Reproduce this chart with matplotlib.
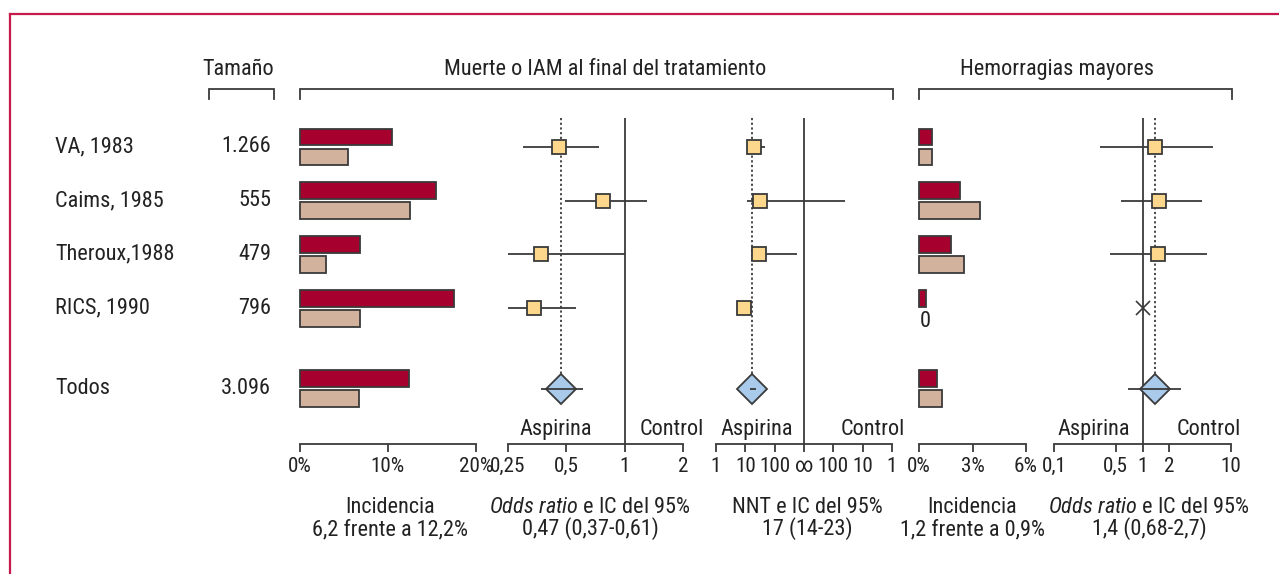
import matplotlib
matplotlib.use('Agg')
import matplotlib.pyplot as plt
import numpy as np
from matplotlib import font_manager
from matplotlib.ticker import NullLocator, FixedLocator, FixedFormatter
from matplotlib.transforms import blended_transform_factory

# ---------------- data ----------------
studies = ['VA, 1983', 'Caims, 1985', 'Theroux,1988', 'RICS, 1990', 'Todos']
sizes = ['1.266', '555', '479', '796', '3.096']

# Muerte o IAM: incidence (%)  red = control, tan = aspirina
mort_control = [10.5, 15.5, 6.8, 17.5, 12.4]
mort_aspirin = [5.5, 12.5, 3.0, 6.8, 6.7]
# Odds ratio (per study) and 95% CI
mort_or = [0.46, 0.77, 0.37, 0.34]
mort_or_lo = [0.30, 0.49, 0.25, 0.25]
mort_or_hi = [0.74, 1.30, 1.00, 0.56]
mort_or_pool, mort_or_pool_lo, mort_or_pool_hi = 0.47, 0.37, 0.61
# NNT (negative = number needed to harm)
nnt = [20, 32, 30, 9]
nnt_lo = [11, 11, 18, 7.5]
nnt_hi = [47, -40, 400, 11]
nnt_pool, nnt_pool_lo, nnt_pool_hi = 17, 14, 23

# Hemorragias mayores: incidence (%)
hem_control = [0.7, 2.3, 1.8, 0.4, 1.0]
hem_aspirin = [0.7, 3.4, 2.5, 0.0, 1.3]
hem_or = [1.39, 1.54, 1.49, np.nan]
hem_or_lo = [0.33, 0.57, 0.43, np.nan]
hem_or_hi = [6.3, 4.76, 5.4, np.nan]
hem_or_pool, hem_or_pool_lo, hem_or_pool_hi = 1.4, 0.68, 2.7

inc_ticks = [0, 10, 20]
inc_labels = ['0%', '10%', '20%']
or_ticks = [0.25, 0.5, 1, 2]
or_labels = ['0,25', '0,5', '1', '2']
nnt_tick_vals = [1, 10, 100, np.inf, -100, -10, -1]
nnt_labels = ['1', '10', '100', '∞', '100', '10', '1']
hinc_ticks = [0, 3, 6]
hinc_labels = ['0%', '3%', '6%']
hor_ticks = [0.1, 0.5, 1, 2, 10]
hor_labels = ['0,1', '0,5', '1', '2', '10']

# ---------------- font selection (prefer a condensed sans) ----------------
def pick_font():
    entries = font_manager.fontManager.ttflist
    names = {e.name for e in entries}
    for nm in ['Liberation Sans Narrow', 'Roboto Condensed', 'Open Sans Condensed',
               'Noto Sans Condensed', 'DejaVu Sans Condensed', 'Arial Narrow']:
        if nm in names:
            return nm, 'normal', 16
    for fam in ['Roboto', 'Noto Sans', 'Open Sans', 'DejaVu Sans', 'Lato', 'Inter']:
        for e in entries:
            if (e.name == fam and str(e.stretch) in ('condensed', 'semi-condensed')
                    and e.style == 'normal'):
                return fam, str(e.stretch), 16
    for e in entries:
        if ('Narrow' in e.name or 'Condensed' in e.name) and e.style == 'normal':
            return e.name, 'normal', 16
    if 'Liberation Sans' in names:
        return 'Liberation Sans', 'normal', 13.5
    return 'DejaVu Sans', 'normal', 12.5


FONT, STRETCH, FS = pick_font()
plt.rcParams['font.family'] = [FONT, 'DejaVu Sans']
plt.rcParams['font.stretch'] = STRETCH
plt.rcParams['mathtext.fontset'] = 'custom'
plt.rcParams['mathtext.rm'] = FONT
plt.rcParams['mathtext.it'] = FONT + ':italic'
TFS = FS - 0.8  # tick label size

TXT = '#222222'
LINE = '#3a3a3a'
RED = '#a6002f'
TAN = '#d2b29d'
SQ = '#fdd78c'
DIA = '#a9caea'
FRAME = '#c8194b'

W, H = 1279, 574
fig = plt.figure(figsize=(W / 100, H / 100), dpi=100)

ov = fig.add_axes([0, 0, 1, 1], zorder=0)
ov.set_xlim(0, W)
ov.set_ylim(H, 0)
ov.axis('off')

ROW0, PITCH = 147.0, 53.7
Y_TOP, Y_BOT = 118, 444
rows = np.array([0, 1, 2, 3, 4.5])
ylim = ((Y_BOT - ROW0) / PITCH, (Y_TOP - ROW0) / PITCH)


def panel(x0, x1):
    ax = fig.add_axes([x0 / W, 1 - Y_BOT / H, (x1 - x0) / W, (Y_BOT - Y_TOP) / H], zorder=2)
    ax.set_facecolor('none')
    ax.set_ylim(*ylim)
    for s in ('top', 'left', 'right'):
        ax.spines[s].set_visible(False)
    ax.spines['bottom'].set_color(LINE)
    ax.spines['bottom'].set_linewidth(1.3)
    ax.set_yticks([])
    ax.tick_params(axis='x', direction='out', length=5.8, width=1.3, color=LINE,
                   labelsize=TFS, pad=3.5, labelcolor=TXT)
    return ax


def set_ticks(ax, ticks, labels):
    ax.xaxis.set_major_locator(FixedLocator(ticks))
    ax.xaxis.set_major_formatter(FixedFormatter(labels))
    ax.xaxis.set_minor_locator(NullLocator())


BH, BOFF = 0.315, 0.187


def bars(ax, control, aspirin):
    c = np.array(control, float)
    a = np.array(aspirin, float)
    ax.barh(rows - BOFF, c, height=BH, color=RED, edgecolor=LINE, linewidth=1.3, clip_on=False)
    m = a > 0
    ax.barh((rows + BOFF)[m], a[m], height=BH, color=TAN, edgecolor=LINE, linewidth=1.3, clip_on=False)


def forest(ax, est, lo, hi, pool, plo, phi, ref):
    est = np.array(est, float)
    lo = np.array(lo, float)
    hi = np.array(hi, float)
    r = rows[:len(est)]
    ok = ~np.isnan(est)
    ax.axvline(ref, color=LINE, lw=1.3, zorder=1)
    ax.plot([pool, pool], [ylim[1], rows[-1]], color=LINE, lw=1.3, ls=(0, (1.2, 1.4)), zorder=1)
    ax.hlines(r[ok], lo[ok], hi[ok], color=LINE, lw=1.3, zorder=2, clip_on=False)
    ax.plot(est[ok], r[ok], 's', ms=10.5, mfc=SQ, mec=LINE, mew=1.3, zorder=3, clip_on=False)
    if (~ok).any():
        ax.plot(np.full((~ok).sum(), ref), r[~ok], 'x', ms=10, mec=LINE, mew=1.2, zorder=3)
    ax.plot([pool], [rows[-1]], 'D', ms=15.5, mfc=DIA, mec=LINE, mew=1.3, zorder=3, clip_on=False)
    ax.hlines([rows[-1]], [plo], [phi], color=LINE, lw=1.3, zorder=4, clip_on=False)


# panel 1: incidence muerte/IAM
ax1 = panel(299.5, 476)
ax1.set_xlim(0, 20)
set_ticks(ax1, inc_ticks, inc_labels)
bars(ax1, mort_control, mort_aspirin)

# panel 2: OR muerte/IAM
ax2 = panel(508, 683)
ax2.set_xscale('log')
ax2.set_xlim(0.25, 2)
set_ticks(ax2, or_ticks, or_labels)
forest(ax2, mort_or, mort_or_lo, mort_or_hi, mort_or_pool, mort_or_pool_lo, mort_or_pool_hi, 1)

# panel 3: NNT (plotted as 1/NNT on a symmetric-log scale)
def arr(v):
    return 1.0 / np.asarray(v, float)

ax3 = panel(716, 892)
ax3.set_xscale('symlog', linthresh=0.01, linscale=0.9)
ax3.set_xlim(1, -1)
set_ticks(ax3, list(arr(nnt_tick_vals)), nnt_labels)
forest(ax3, arr(nnt), arr(nnt_lo), arr(nnt_hi), 1 / nnt_pool, 1 / nnt_pool_lo, 1 / nnt_pool_hi, 0)

# panel 4: incidence hemorragias
ax4 = panel(919.3, 1025.7)
ax4.set_xlim(0, 6)
set_ticks(ax4, hinc_ticks, hinc_labels)
bars(ax4, hem_control, hem_aspirin)
for i, v in enumerate(hem_aspirin):
    if v == 0:
        ax4.text(0, rows[i] + BOFF + 0.07, '0', fontsize=FS, color=TXT, ha='left', va='center')

# panel 5: OR hemorragias
ax5 = panel(1054, 1231)
ax5.set_xscale('log')
ax5.set_xlim(0.1, 10)
set_ticks(ax5, hor_ticks, hor_labels)
forest(ax5, hem_or, hem_or_lo, hem_or_hi, hem_or_pool, hem_or_pool_lo, hem_or_pool_hi, 1)

# study names and sizes
tr = blended_transform_factory(ov.transData, ax1.transData)
for i, (nm, sz) in enumerate(zip(studies, sizes)):
    ax1.text(55, rows[i], nm, transform=tr, fontsize=FS, color=TXT, ha='left', va='center', clip_on=False)
    ax1.text(271, rows[i], sz, transform=tr, fontsize=FS, color=TXT, ha='right', va='center', clip_on=False)

# headers and brackets
ov.text(238, 75, 'Tamaño', fontsize=FS, color=TXT, ha='center', va='baseline')
ov.text(605, 75, 'Muerte o IAM al final del tratamiento', fontsize=FS, color=TXT, ha='center', va='baseline')
ov.text(1057, 75, 'Hemorragias mayores', fontsize=FS, color=TXT, ha='center', va='baseline')
for x0, x1 in [(209, 274), (300, 893), (919, 1232)]:
    ov.plot([x0, x0, x1, x1], [99, 89, 89, 99], color=LINE, lw=1.3, solid_joinstyle='miter')

# Aspirina / Control
for x, s in [(556, 'Aspirina'), (672, 'Control'), (757, 'Aspirina'), (873, 'Control'),
             (1094, 'Aspirina'), (1209, 'Control')]:
    ov.text(x, 435, s, fontsize=FS, color=TXT, ha='center', va='baseline')

# bottom captions
caps = [(390, 'Incidencia', '6,2 frente a 12,2%'),
        (590, r'$\mathit{Odds\ ratio}$ e IC del 95%', '0,47 (0,37-0,61)'),
        (807, 'NNT e IC del 95%', '17 (14-23)'),
        (972, 'Incidencia', '1,2 frente a 0,9%'),
        (1149, r'$\mathit{Odds\ ratio}$ e IC del 95%', '1,4 (0,68-2,7)')]
for x, l1, l2 in caps:
    ov.text(x, 513, l1, fontsize=FS, color=TXT, ha='center', va='baseline')
    ov.text(x, 535, l2, fontsize=FS, color=TXT, ha='center', va='baseline')

# frame (top and left)
ov.plot([10, W], [14, 14], color=FRAME, lw=1.6, clip_on=False)
ov.plot([10, 10], [14, H], color=FRAME, lw=1.6, clip_on=False)

fig.savefig('out.png', dpi=100)
